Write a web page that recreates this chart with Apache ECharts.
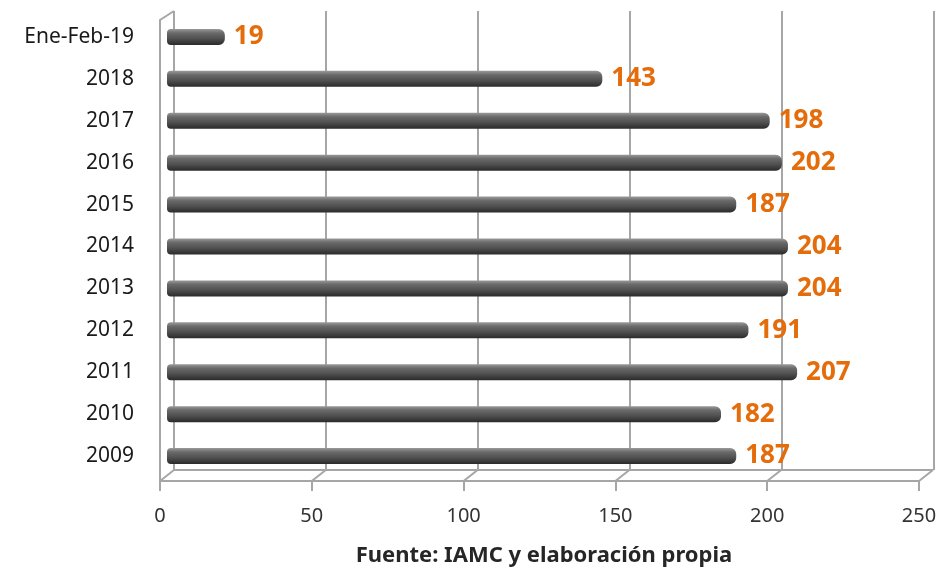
<!DOCTYPE html>
<html>
<head>
<meta charset="utf-8">
<script src="https://cdn.jsdelivr.net/npm/echarts@6/dist/echarts.min.js"></script>
<style>html,body{margin:0;padding:0;background:#fff}#c{width:945px;height:575px}</style>
</head>
<body>
<div id="c"></div>
<script>
const categories = ['Ene-Feb-19','2018','2017','2016','2015','2014','2013','2012','2011','2010','2009'];
const values = [19,143,198,202,187,204,204,191,207,182,187];
const axisTicks = [0,50,100,150,200,250];
const sourceText = 'Fuente: IAMC y elaboración propia';

const FONT = '"Noto Sans", "Open Sans", sans-serif';
const GRID_COLOR = '#a6a6a6';
const DEPTH_X = 14, DEPTH_Y = -11;

const chart = echarts.init(document.getElementById('c'), null, {renderer:'canvas'});
chart.setOption({
  animation:false,
  backgroundColor:'#ffffff',
  title:{
    text: sourceText,
    left: 539, top: 540, textAlign:'center',
    textStyle:{fontFamily:FONT, fontSize:22, fontWeight:'bold', color:'#262626'}
  },
  grid:[
    {left:174, top:11, width:760, height:459},   // back wall
    {left:160, top:20, width:759, height:461},   // front edge / floor
    {left:167, top:16, width:761, height:461}    // bars
  ],
  xAxis:[
    {gridIndex:0, type:'value', min:0, max:250, interval:50,
     axisLine:{show:false}, axisTick:{show:false}, axisLabel:{show:false},
     splitLine:{show:true, lineStyle:{color:GRID_COLOR, width:2}}},
    {gridIndex:1, type:'value', min:0, max:250, interval:50,
     axisLine:{show:true, lineStyle:{color:GRID_COLOR, width:2}},
     axisTick:{show:true, length:10, lineStyle:{color:GRID_COLOR, width:2}},
     axisLabel:{show:true, margin:25, fontFamily:FONT, fontSize:20, color:'#333333',
       formatter:v=> axisTicks.includes(v) ? String(v) : ''},
     splitLine:{show:false}},
    {gridIndex:2, type:'value', min:0, max:250, show:false}
  ],
  yAxis:[
    {gridIndex:0, type:'value', min:0, max:1, show:false},
    {gridIndex:1, type:'value', min:0, max:1,
     axisLine:{show:true, lineStyle:{color:GRID_COLOR, width:2}},
     axisTick:{show:false}, axisLabel:{show:false}, splitLine:{show:false}},
    {gridIndex:2, type:'category', data:categories, inverse:true,
     axisLine:{show:false}, axisTick:{show:false},
     axisLabel:{margin:33, fontFamily:FONT, fontSize:21, color:'#1a1a1a'}}
  ],
  series:[
    {
      type:'custom', xAxisIndex:1, yAxisIndex:1,
      data: axisTicks.map(v=>[v,0]),
      silent:true,
      renderItem:function(params, api){
        const v = api.value(0);
        const p = api.coord([v, 0]);
        const children = [{
          type:'line',
          shape:{x1:p[0], y1:p[1], x2:p[0]+DEPTH_X, y2:p[1]+DEPTH_Y},
          style:{stroke:GRID_COLOR, lineWidth:2}
        }];
        if (v === 0) {
          const t = api.coord([0, 1]);
          children.push({
            type:'line',
            shape:{x1:t[0], y1:t[1], x2:t[0]+DEPTH_X, y2:t[1]+DEPTH_Y+2},
            style:{stroke:GRID_COLOR, lineWidth:2}
          });
        }
        if (v === 250) {
          const a = api.coord([0,0]);
          children.push({
            type:'line',
            shape:{x1:a[0]+DEPTH_X, y1:a[1]+DEPTH_Y, x2:p[0]+DEPTH_X, y2:p[1]+DEPTH_Y},
            style:{stroke:GRID_COLOR, lineWidth:2}
          });
        }
        return {type:'group', children};
      }
    },
    {
      type:'bar', xAxisIndex:2, yAxisIndex:2,
      data: values,
      barWidth:16,
      z:5,
      itemStyle:{
        borderRadius:[4,6,6,4],
        color:new echarts.graphic.LinearGradient(0,0,0,1,[
          {offset:0, color:'#9a9a9a'},
          {offset:0.25, color:'#6a6a6a'},
          {offset:0.6, color:'#505050'},
          {offset:1, color:'#2a2a2a'}
        ])
      },
      label:{
        show:true, position:'right', distance:9,
        fontFamily:FONT, fontSize:26, fontWeight:'bold', color:'#E46C0A'
      }
    }
  ]
});
</script>
</body>
</html>
